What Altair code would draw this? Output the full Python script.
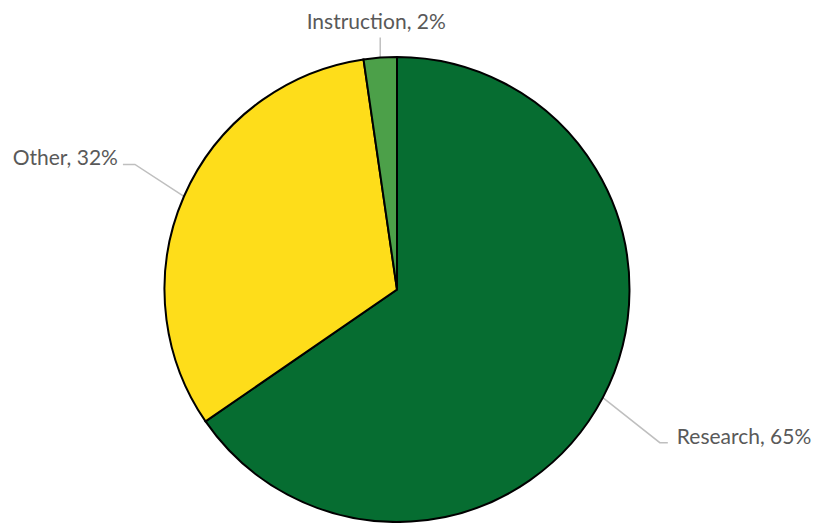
import math
import altair as alt
import pandas as pd

# ---- data ----
categories = ["Research", "Other", "Instruction"]
shares = [65.4, 32.3, 2.3]
labels = ["Research, 65%", "Other, 32%", "Instruction, 2%"]
colors = ["#066D31", "#FEDD1A", "#4CA049"]

# ---- layout / style (not data) ----
W, H = 806, 515
CX, CY, R = 389, 281.5, 232.5
TEXT_COLOR = "#595959"
LEADER_COLOR = "#BFBFBF"
FONT = "Lato"
FONT_SIZE = 21
# elbow offset from slice anchor, horizontal tail length, text align
LAYOUT = {
    "Research": dict(elbow=(57, 45), tail=8, gap=9, align="left"),
    "Other": dict(elbow=(-49, -32), tail=-12, gap=-5, align="right"),
    "Instruction": dict(elbow=(0, -20), tail=0, gap=-4, align="center"),
}

pie_df = pd.DataFrame({"category": categories, "value": shares, "idx": range(len(categories))})

# leader lines and label positions derived from slice mid-angles
total = sum(shares)
cum = 0.0
line_rows, text_rows = [], []
for cat, v, lab in zip(categories, shares, labels):
    mid = (cum + v / 2) / total * 2 * math.pi
    cum += v
    ax = CX + R * math.sin(mid)
    ay = CY - R * math.cos(mid)
    lay = LAYOUT[cat]
    ex, ey = ax + lay["elbow"][0], ay + lay["elbow"][1]
    tx = ex + lay["tail"]
    pts = [(ax, ay), (ex, ey), (tx, ey)]
    for k, (px, py) in enumerate(pts):
        line_rows.append({"category": cat, "o": k, "x": px, "y": py})
    if lay["align"] == "center":
        text_rows.append({"category": cat, "label": lab, "x": ax + lay["gap"], "y": ey - 9, "align": "center"})
    else:
        text_rows.append({"category": cat, "label": lab, "x": tx + lay["gap"], "y": ey + 1, "align": lay["align"]})

line_df = pd.DataFrame(line_rows)
text_df = pd.DataFrame(text_rows)

pie = alt.Chart(pie_df).mark_arc(stroke="black", strokeWidth=2, outerRadius=R).encode(
    theta=alt.Theta("value:Q", stack=True),
    order=alt.Order("idx:Q"),
    color=alt.Color("category:N", scale=alt.Scale(domain=categories, range=colors), legend=None),
    x=alt.value(CX),
    y=alt.value(CY),
)

leaders = alt.Chart(line_df).mark_line(color=LEADER_COLOR, strokeWidth=1.5).encode(
    x=alt.X("x:Q", scale=None, axis=None),
    y=alt.Y("y:Q", scale=None, axis=None),
    detail="category:N",
    order="o:Q",
)

def text_layer(al):
    return alt.Chart(text_df).transform_filter(alt.datum.align == al).mark_text(
        align=al, baseline="alphabetic", font=FONT, fontSize=FONT_SIZE, color=TEXT_COLOR
    ).encode(
        x=alt.X("x:Q", scale=None, axis=None),
        y=alt.Y("y:Q", scale=None, axis=None),
        text="label:N",
    )

chart = alt.layer(
    leaders, pie, text_layer("left"), text_layer("right"), text_layer("center")
).properties(
    width=W, height=H,
    autosize=alt.AutoSizeParams(type="none"),
    padding=0,
    background="white",
).configure_view(stroke=None)

chart.save("out.html", embed_options={"renderer": "svg", "actions": False})
